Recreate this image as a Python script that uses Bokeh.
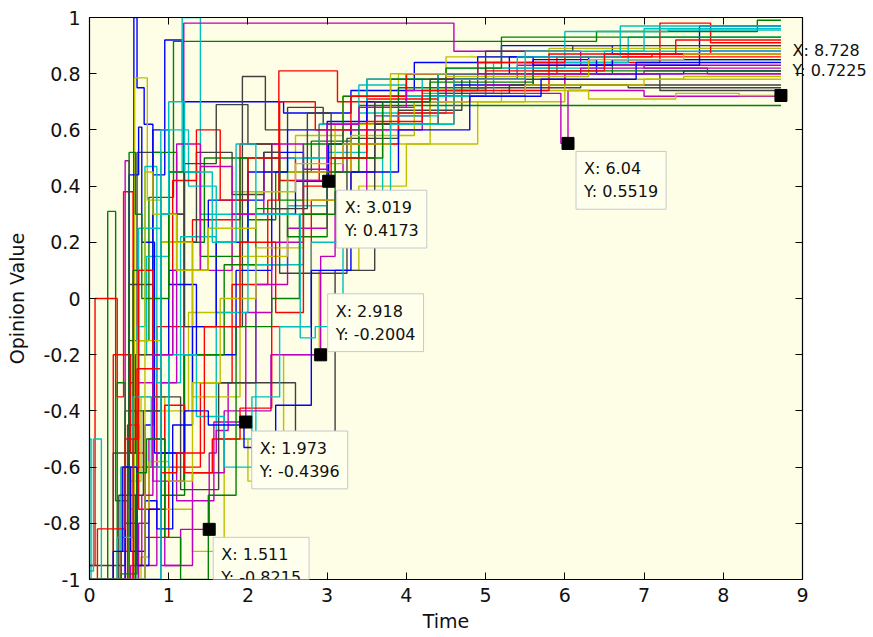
from bokeh.plotting import figure
from bokeh.models import Label, LinearAxis, FixedTicker, Range1d
from bokeh.embed import file_html
from bokeh.resources import INLINE

# ---------------- data ----------------
END_T = 8.728

XTICKS = [0, 1, 2, 3, 4, 5, 6, 7, 8, 9]
XTICK_LABELS = ["0", "1", "2", "3", "4", "5", "6", "7", "8", "9"]
YTICKS = [-1, -0.8, -0.6, -0.4, -0.2, 0, 0.2, 0.4, 0.6, 0.8, 1]
YTICK_LABELS = ["-1", "-0.8", "-0.6", "-0.4", "-0.2", "0", "0.2", "0.4", "0.6", "0.8", "1"]

B, G, R, C, M, Y, K = "#0000ff", "#008000", "#ff0000", "#00bfbf", "#bf00bf", "#bfbf00", "#404040"

T01 = [0, 0.56, 0.60, 0.69, 0.80, 0.95, 1.17, 2.45, 3.3, 4.1, 5.2, 6.6, 7.7]
V01 = [-1, 1.0, 0.75, 0.62, 0.44, 0.92, 0.70, 0.66, 0.74, 0.84, 0.90, 0.87, 0.97]
T02 = [0, 0.23, 0.33, 0.50, 0.75, 1.06, 6.4, 8.43]
V02 = [-1, 0.31, -0.72, -0.15, 0.36, 0.915, 0.95, 0.99]
T03 = [0, 0.07, 0.35, 0.43, 0.55, 0.85, 1.3, 1.9, 2.4, 2.9, 3.5, 4.4, 5.5, 7.2, 7.84]
V03 = [-0.95, 0.0, -0.35, 0.38, -0.6, -0.1, 0.28, 0.55, 0.42, 0.62, 0.71, 0.78, 0.84, 0.98, 0.91]
T04 = [0, 0.02, 0.5, 0.72, 1.0, 1.17, 1.4, 2.0, 2.7, 3.4, 4.5, 6.0, 7.3]
V04 = [-0.5, -1, -0.2, 0.15, 0.45, 1.0, 0.3, 0.12, 0.5, 0.66, 0.82, 0.95, 0.955]
T05 = [0, 0.45, 0.5, 0.8, 1.19, 4.6, 6.2]
V05 = [-1, 0.49, -0.3, -0.65, 0.98, 0.88, 0.83]
T06 = [0, 0.57, 0.73, 0.9, 1.25, 1.8, 2.2, 2.6, 3.2, 3.9, 4.5, 5.8, 7.2]
V06 = [-1, 0.785, 0.35, -0.4, -0.05, 0.38, 0.45, 0.58, 0.72, 0.80, 0.86, 0.89, 0.89]
T07 = [0, 0.45, 0.6, 0.9, 1.2, 1.93, 2.22, 2.5, 2.95, 3.5, 4.8, 6.2]
V07 = [-0.95, -0.4, 0.52, 0.3, -0.1, 0.79, 0.6, 0.68, 0.62, 0.78, 0.75, 0.76]
T08 = [0, 0.5, 0.62, 0.66, 0.82, 1.0, 1.5, 2.2, 2.7, 3.0, 3.6, 4.4, 5.3, 6.3, 7.7]
V08 = [-1, 0.44, 0.61, 0.2, -0.55, 0.1, 0.35, 0.52, 0.3, 0.55, 0.7, 0.8, 0.86, 0.83, 0.88]
T09 = [0, 0.4, 0.55, 0.8, 1.1, 1.45, 2.0, 2.35, 2.8, 3.3, 3.9, 5.0, 6.6]
V09 = [-1, -0.6, 0.1, 0.52, 0.2, 0.5, 0.28, 0.45, 0.56, 0.62, 0.75, 0.8, 0.85]
T10 = [0, 0.3, 0.52, 0.7, 1.0, 1.4, 1.8, 2.25, 2.39, 3.13, 3.7, 4.6, 5.9, 7.1]
V10 = [-1, -0.2, -0.55, -0.85, -0.6, -0.3, 0.05, 0.35, 0.81, 0.70, 0.62, 0.8, 0.86, 0.87]
T11 = [0, 0.6, 0.7, 0.85, 1.15, 1.6, 2.1, 2.5, 3.0, 3.5, 4.2, 5.1, 6.8]
V11 = [-1, -0.1, 0.47, -0.3, 0.22, -0.5, 0.12, 0.33, 0.52, 0.78, 0.73, 0.84, 0.93]
T12 = [0, 0.55, 0.7, 0.9, 1.15, 1.511, 1.6, 1.75, 2.1, 2.5, 3.0, 3.6, 4.3, 5.5, 7.0]
V12 = [-1, -0.9, -0.6, -0.95, -0.8215, -0.55, -0.47, -0.3, 0.05, 0.25, 0.45, 0.65, 0.72, 0.8, 0.81]
T13 = [0, 0.5, 0.65, 0.95, 1.3, 1.7, 2.0, 2.45, 2.9, 3.4, 4.0, 4.9, 6.0, 7.5]
V13 = [-1, -0.65, -0.35, -0.75, -0.9, -0.5, -0.65, -0.2, 0.1, 0.4, 0.55, 0.7, 0.78, 0.79]
T14 = [0, 0.3, 0.58, 0.9, 1.35, 1.8, 2.2, 2.4, 3.25, 3.9, 4.7, 6.0, 7.2]
V14 = [-1, -0.55, -0.2, 0.2, 0.52, 0.37, 0.52, 0.09, 0.57, 0.67, 0.78, 0.8, 0.74]
T15 = [0, 0.7, 0.8, 1.0, 1.35, 1.85, 2.3, 2.6, 3.019, 3.3, 3.8, 4.6, 5.6, 6.4, 7.5]
V15 = [-1, -0.45, 0.6, 0.05, -0.2, 0.1, 0.3, 0.4173, 0.55, 0.62, 0.72, 0.76, 0.85, 0.8, 0.81]
T16 = [0, 0.62, 0.75, 0.95, 1.3, 1.7, 2.29, 2.918, 3.1, 3.5, 4.2, 5.0, 6.0, 7.5]
V16 = [-1, -0.8, -0.5, -0.95, -0.62, -0.4, -0.2004, 0.15, 0.38, 0.6, 0.72, 0.76, 0.8, 0.80]
T17 = [0, 0.48, 0.6, 0.85, 1.1, 1.57, 1.973, 2.3, 2.7, 3.2, 3.8, 4.5, 5.4, 7.0]
V17 = [-1, -0.7, -0.95, -0.55, -0.72, -0.4396, -0.05, 0.2, 0.45, 0.6, 0.7, 0.78, 0.83, 0.82]
T18 = [0, 0.9, 1.1, 1.4, 1.8, 2.2, 2.6, 3.0, 3.5, 4.1, 4.8, 5.95, 6.04, 7.0]
V18 = [-1, -0.3, 0.55, 0.1, 0.3, 0.5, 0.42, 0.6, 0.68, 0.7, 0.73, 0.5519, 0.74, 0.72]
T19 = [0, 0.5, 0.6, 0.9, 1.3, 1.9, 2.5, 3.1, 3.6, 4.3, 5.2, 6.3, 7.4, 8.2]
V19 = [-1, -0.75, -0.15, 0.2, -0.35, 0.15, 0.45, 0.62, 0.55, 0.7, 0.74, 0.71, 0.73, 0.7225]
T20 = [0, 0.35, 0.45, 0.6, 0.9, 1.2, 1.7, 2.1, 2.5, 3.0, 3.4]
V20 = [-1, -0.3, -0.8, -0.4, -0.7, -0.2, 0.12, 0.32, 0.22, 0.45, 0.687]
T21 = [0, 0.05, 0.15, 0.4, 0.62, 0.9, 1.25, 1.6, 2.0, 2.5, 2.9, 3.4, 4.0, 5.0, 6.5]
V21 = [-0.97, -0.5, -1, -0.6, 0.25, 0.6, 0.4, -0.05, 0.3, 0.5, 0.62, 0.76, 0.72, 0.82, 0.88]
T22 = [0, 0.4, 0.48, 0.62, 0.95, 1.2, 1.55, 1.9, 2.3, 2.8, 3.3, 3.9, 4.6, 5.8, 7.84]
V22 = [-1, -0.9, -0.45, -0.75, -0.38, -0.62, -0.5, -0.39, -0.1, 0.35, 0.55, 0.66, 0.74, 0.87, 0.9]
T23 = [0, 0.37, 0.5, 0.8, 1.15, 1.63, 2.6, 3.1, 3.6, 4.4, 5.3, 6.8]
V23 = [-1, -0.7, 0.05, -0.35, -0.68, -0.3, -0.62, 0.1, 0.62, 0.73, 0.76, 0.75]
T24 = [0, 0.45, 0.52, 0.7, 0.85, 1.05, 1.3, 1.6, 2.0, 2.5, 3.0, 3.5, 4.0, 4.9, 5.6, 6.6]
V24 = [-1, -0.6, -0.9, -0.72, -0.82, -0.45, -0.1, 0.2, 0.45, 0.6, 0.63, 0.7, 0.8, 0.86, 0.83, 0.85]
T25 = [0, 0.65, 0.75, 1.0, 1.3, 1.65, 2.1, 2.7, 3.3, 4.1, 5.5, 7.0]
V25 = [-1, -0.92, -0.58, -0.65, -0.3, 0.0, 0.18, 0.35, 0.58, 0.7, 0.76, 0.78]
T26 = [0, 0.5, 0.58, 0.66, 1.0, 1.4, 1.9, 2.4, 2.7, 3.2, 3.8, 4.5, 5.2, 6.3]
V26 = [-1, 0.52, 0.3, 0.0, 0.45, 0.15, 0.5, 0.35, 0.55, 0.72, 0.78, 0.82, 0.93, 0.93]
T27 = [0, 0.1, 0.45, 0.62, 0.8, 1.05, 1.35, 1.65, 2.0, 2.4, 2.85, 3.3, 4.0, 4.9, 6.0, 7.3]
V27 = [-1, -0.82, -0.5, 0.1, -0.2, 0.42, 0.6, 0.35, 0.5, 0.7, 0.6, 0.72, 0.8, 0.84, 0.86, 0.86]
T28 = [0, 0.35, 0.55, 0.78, 1.0, 1.35, 1.7, 2.05, 2.4, 2.8, 3.2, 3.7, 4.4, 5.4, 6.7]
V28 = [-1, -0.85, -0.35, -0.6, -0.2, -0.42, -0.6, -0.35, -0.1, 0.2, 0.38, 0.65, 0.8, 0.86, 0.97]
T29 = [0, 0.52, 0.66, 0.8, 1.05, 1.4, 1.8, 2.3, 2.7, 3.0, 3.4, 4.0, 4.9, 6.2, 7.8]
V29 = [-1, -0.95, -0.7, -0.2, 0.1, 0.47, 0.3, 0.55, 0.46, 0.62, 0.68, 0.74, 0.8, 0.82, 0.8]
T30 = [0, 0.58, 0.68, 0.9, 1.2, 1.6, 2.0, 2.3, 2.75, 3.05, 3.6, 4.3, 5.0, 6.1, 7.6]
V30 = [-1, -0.7, -0.4, 0.3, 0.48, 0.69, 0.55, 0.32, 0.66, 0.5, 0.7, 0.78, 0.88, 0.9, 0.9]
T31 = [0, 0.3, 0.42, 0.6, 0.75, 0.9, 1.2, 1.5, 1.95, 2.35, 2.8, 3.3, 3.9, 4.8, 5.7, 6.9]
V31 = [-1, -0.9, -0.6, -0.95, -0.75, -0.55, -0.4, -0.45, -0.53, -0.38, 0.1, 0.45, 0.6, 0.72, 0.78, 0.84]
T32 = [0, 0.7, 0.8, 1.1, 1.5, 2.1, 2.6, 3.2, 3.8, 4.5, 6.3, 7.5]
V32 = [-1, 0.45, 0.3, 0.1, 0.25, 0.38, 0.48, 0.55, 0.8, 0.79, 0.85, 0.87]
T33 = [0, 0.4, 0.6, 0.72, 0.95, 1.15, 1.5, 1.85, 2.3, 2.65, 3.1, 3.7, 4.3, 5.6]
V33 = [-1, -0.98, -0.62, -0.5, -0.85, -1.0, -0.7, -0.1, 0.0, 0.3, 0.5, 0.7, 0.77, 0.81]
T34 = [0, 0.55, 0.6, 0.9, 1.1, 1.45, 1.9, 2.35, 2.7, 3.05, 3.5, 4.2, 5.0, 6.5, 7.4]
V34 = [-1, -0.5, -0.25, -0.62, -0.55, -0.1, 0.2, -0.05, 0.4, 0.5, 0.63, 0.74, 0.81, 0.87, 0.92]
T35 = [0, 0.9, 1.0, 1.2, 1.55, 1.85, 2.1, 2.66, 2.85, 3.2, 3.8, 4.6, 5.5, 7.0]
V35 = [-1, 0.3, 0.7, 0.45, 0.2, 0.55, 0.3, -0.14, -0.1, 0.35, 0.62, 0.78, 0.88, 0.96]

SERIES = [
    (T01, V01, B), (T02, V02, G), (T03, V03, R), (T04, V04, C), (T05, V05, M),
    (T06, V06, Y), (T07, V07, K), (T08, V08, B), (T09, V09, G), (T10, V10, R),
    (T11, V11, C), (T12, V12, M), (T13, V13, Y), (T14, V14, K), (T15, V15, B),
    (T16, V16, M), (T17, V17, M), (T18, V18, M), (T19, V19, Y), (T20, V20, G),
    (T21, V21, C), (T22, V22, R), (T23, V23, K), (T24, V24, B), (T25, V25, Y),
    (T26, V26, G), (T27, V27, R), (T28, V28, C), (T29, V29, M), (T30, V30, K),
    (T31, V31, B), (T32, V32, Y), (T33, V33, G), (T34, V34, R), (T35, V35, C),
]

# data tips (boxed, inside the axes)
TIP_X = [1.511, 1.973, 2.918, 3.019, 6.04]
TIP_Y = [-0.8215, -0.4396, -0.2004, 0.4173, 0.5519]
TIP_TEXT = ["X: 1.511\nY: -0.8215", "X: 1.973\nY: -0.4396", "X: 2.918\nY: -0.2004",
            "X: 3.019\nY: 0.4173", "X: 6.04\nY: 0.5519"]
TIP_DX = [4, 6, 7, 8, 8]
TIP_DY = [-8, -9, 61, -9, -8]
# last data tip (text sits outside the axes, on the right)
END_TIP_X = 8.728
END_TIP_Y = 0.7225
END_TIP_LINES = ["X: 8.728", "Y: 0.7225"]

FONT = "DejaVu Sans"
FRAME_H = 637 - 17 - 58          # plot-area height in px
PX_PER_UNIT = FRAME_H / 2.0      # y range spans 2 units

p = figure(width=873, height=637, x_range=Range1d(0, 9), y_range=Range1d(-1, 1),
           output_backend="svg", toolbar_location=None,
           min_border_left=89, min_border_right=71, min_border_top=17, min_border_bottom=58)
p.background_fill_color = "#fefee6"
p.border_fill_color = "white"
p.outline_line_color = None
p.xgrid.visible = False
p.ygrid.visible = False

for t, v, col in SERIES:
    xs = list(t) + [END_T]
    ys = list(v) + [v[-1]]
    p.step(xs, ys, mode="after", line_color=col, line_width=1.4)

p.scatter(TIP_X + [END_TIP_X], TIP_Y + [END_TIP_Y], marker="square", size=12,
          fill_color="black", line_color="black")

def style_axis(ax, ticks, labels, show_labels):
    ax.ticker = FixedTicker(ticks=ticks)
    ax.major_tick_in = 7
    ax.major_tick_out = 0
    ax.minor_tick_line_color = None
    ax.axis_line_color = "black"
    ax.axis_line_width = 1.2
    ax.major_tick_line_color = "black"
    ax.major_label_text_font = FONT
    if show_labels:
        ax.major_label_overrides = {t: l for t, l in zip(ticks, labels)}
        ax.major_label_text_font_size = "19px"
        ax.major_label_text_color = "#111111"
    else:
        ax.major_label_text_color = None
        ax.major_label_text_font_size = "1px"
        ax.major_label_standoff = 0

xa = p.xaxis[0]
ya = p.yaxis[0]
style_axis(xa, XTICKS, XTICK_LABELS, True)
style_axis(ya, YTICKS, YTICK_LABELS, True)
xa.major_label_standoff = 8
ya.major_label_standoff = 9
xa.axis_label = "Time"
ya.axis_label = "Opinion Value"
for ax in (xa, ya):
    ax.axis_label_text_font = FONT
    ax.axis_label_text_font_size = "19px"
    ax.axis_label_text_font_style = "normal"
    ax.axis_label_text_color = "#111111"
xa.axis_label_standoff = 5
ya.axis_label_standoff = 12

top = LinearAxis()
right = LinearAxis()
style_axis(top, XTICKS, XTICK_LABELS, False)
style_axis(right, YTICKS, YTICK_LABELS, False)
p.add_layout(top, "above")
p.add_layout(right, "right")

# text of the last data tip, written in the right margin (not clipped by the plot area)
tip_ticks = [END_TIP_Y + 45 / PX_PER_UNIT, END_TIP_Y + 25 / PX_PER_UNIT]
tip_axis = LinearAxis(ticker=FixedTicker(ticks=tip_ticks),
                      major_label_overrides={t: s for t, s in zip(tip_ticks, END_TIP_LINES)})
tip_axis.axis_line_color = None
tip_axis.major_tick_line_color = None
tip_axis.minor_tick_line_color = None
tip_axis.major_tick_in = 0
tip_axis.major_tick_out = 0
tip_axis.major_label_standoff = -10
tip_axis.major_label_text_font = FONT
tip_axis.major_label_text_font_size = "16px"
tip_axis.major_label_text_color = "#111111"
p.add_layout(tip_axis, "right")

for x, y, txt, dx, dy in zip(TIP_X, TIP_Y, TIP_TEXT, TIP_DX, TIP_DY):
    lab = Label(x=x, y=y, text=txt, x_offset=dx, y_offset=dy, anchor="top_left",
                text_font=FONT, text_font_size="16px", text_color="#111111",
                text_line_height=1.2, padding=8,
                background_fill_color="#ffffee", border_line_color="#c8c8c8")
    p.add_layout(lab)

open("out.html", "w").write(file_html(p, INLINE))
